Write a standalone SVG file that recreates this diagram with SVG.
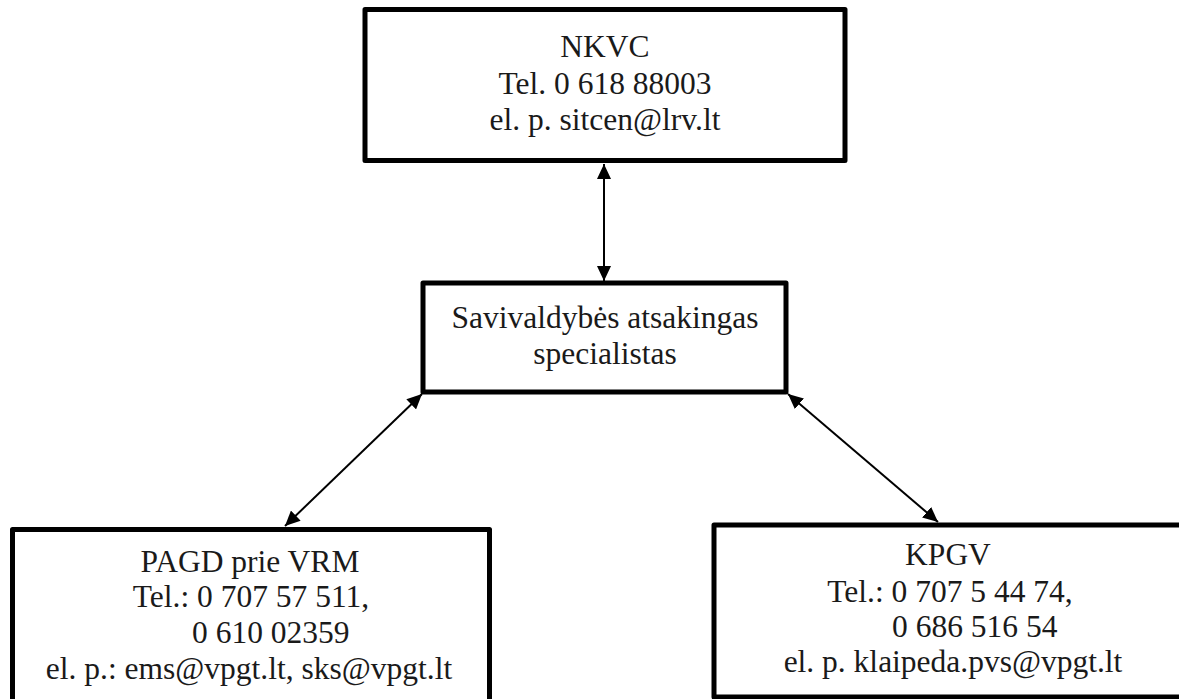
<svg xmlns="http://www.w3.org/2000/svg" width="1179" height="699" viewBox="0 0 1179 699">
<style>
.box{fill:#fff;stroke:#000;stroke-width:5;stroke-linejoin:round}
.t{font-family:"Liberation Serif","Times New Roman",serif;font-size:31.5px;fill:#1a1a1a;text-anchor:middle}
.s{text-anchor:start}
.c{stroke:#000;stroke-width:2;fill:none;marker-start:url(#ah);marker-end:url(#ah)}
</style>
<defs>
<marker id="ah" markerUnits="userSpaceOnUse" markerWidth="16" markerHeight="14" refX="15" refY="7" orient="auto-start-reverse">
<path d="M0,0 L15,7 L0,14 z" fill="#000"/>
</marker>
</defs>
<rect width="1179" height="699" fill="#fff"/>
<g id="nkvc">
<rect class="box" x="365" y="9.5" width="480" height="151"/>
<text class="t" x="605" y="57">NKVC</text>
<text class="t" x="605" y="94">Tel. 0 618 88003</text>
<text class="t" x="605" y="130">el. p. sitcen@lrv.lt</text>
</g>
<g id="savivaldybe">
<rect class="box" x="423" y="283" width="363" height="109"/>
<text class="t" x="605" y="328">Savivaldybės atsakingas</text>
<text class="t" x="605" y="364">specialistas</text>
</g>
<g id="pagd">
<rect class="box" x="12.5" y="529.5" width="477" height="190"/>
<text class="t" x="250" y="572">PAGD prie VRM</text>
<text class="t" x="251" y="607">Tel.: 0 707 57 511,</text>
<text class="t s" x="192" y="643">0 610 02359</text>
<text class="t" x="249" y="679">el. p.: ems@vpgt.lt, sks@vpgt.lt</text>
</g>
<g id="kpgv">
<rect class="box" x="714" y="525" width="480" height="172"/>
<text class="t" x="948" y="565">KPGV</text>
<text class="t" x="950" y="602">Tel.: 0 707 5 44 74,</text>
<text class="t s" x="892" y="637">0 686 516 54</text>
<text class="t" x="953" y="672">el. p. klaipeda.pvs@vpgt.lt</text>
</g>
<g id="connectors">
<path class="c" d="M604,164 L604,281"/>
<path class="c" d="M422,394 L285,526"/>
<path class="c" d="M788,394 L938,522"/>
</g>
</svg>
